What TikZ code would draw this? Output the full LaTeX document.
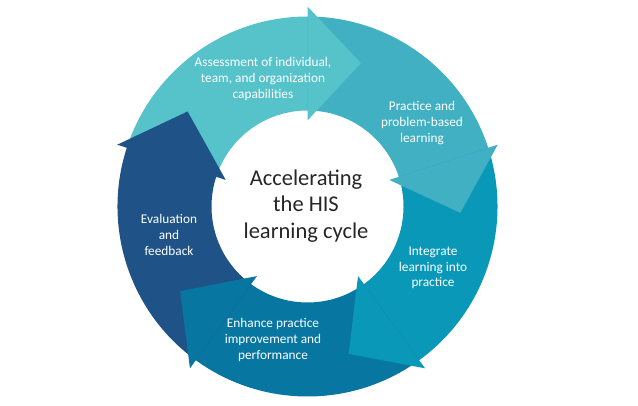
\documentclass[tikz,border=0pt]{standalone}
\usepackage{fontspec}
\setmainfont{Carlito}
\definecolor{segA}{HTML}{56C3CB}
\definecolor{segB}{HTML}{41B0C3}
\definecolor{segC}{HTML}{0A98B9}
\definecolor{segD}{HTML}{0776A1}
\definecolor{segE}{HTML}{1F5286}
\begin{document}
\begin{tikzpicture}[x=1pt,y=1pt,
    seglabel/.style={text=white,align=center,font=\fontsize{13.3}{15.8}\selectfont},
    hub/.style={text=black!85,align=center,font=\fontsize{22.5}{26.5}\selectfont}]
    \useasboundingbox (0,0) rectangle (638,405);
    \coordinate (c) at (307.5,198.5);
    \begin{scope}[shift={(c)}]
        % ring pieces, each from the previous head to its own head
        \foreach \b/\col in {90/segA,18/segB,-54/segC,-126/segD,162/segE}
            \fill[\col] ({\b+72}:190pt) arc[start angle=\b+72,end angle=\b-1,radius=190pt]
                -- ({\b-1}:96pt) arc[start angle=\b-1,end angle=\b+72,radius=96pt] -- cycle;
        % arrow heads on top
        \foreach \b/\col in {90/segA,18/segB,-54/segC,-126/segD,162/segE}
            \fill[\col] (\b:200pt) -- ({\b-20.4}:153pt) -- (\b:86pt) -- cycle;
    \end{scope}
    \node[hub] (hub) at (306,199) {Accelerating\\the HIS\\learning cycle};
    \node[seglabel] (assess) at (263,326) {Assessment of individual,\\team, and organization\\capabilities};
    \node[seglabel] (practice) at (422,282) {Practice and\\problem-based\\learning};
    \node[seglabel] (integrate) at (433,137) {Integrate\\learning into\\practice};
    \node[seglabel] (enhance) at (273,65) {Enhance practice\\improvement and\\performance};
    \node[seglabel] (evaluate) at (169,170) {Evaluation\\and\\feedback};
\end{tikzpicture}
\end{document}
